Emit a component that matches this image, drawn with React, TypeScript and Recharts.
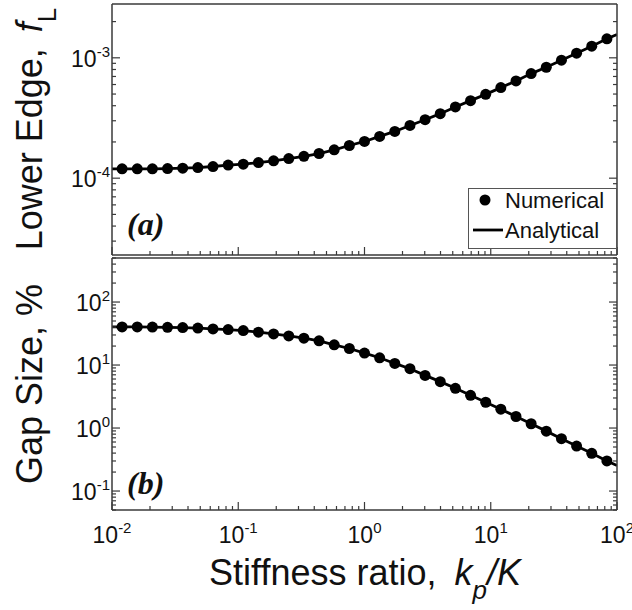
import React from 'react';
import { ComposedChart, Line, Scatter, XAxis, YAxis, Legend, Customized } from 'recharts';

// ---------- data ----------
const stiffnessRatio = [0.01202, 0.01585, 0.02089, 0.02754, 0.03631, 0.04786, 0.0631, 0.08318, 0.1096, 0.1445, 0.1905, 0.2512, 0.3311, 0.4365, 0.5754, 0.7586, 1, 1.318, 1.738, 2.291, 3.02, 3.981, 5.248, 6.918, 9.12, 12.02, 15.85, 20.89, 27.54, 36.31, 47.86, 63.1, 83.18];

const lowerEdgeNumerical = [1.195e-4, 1.195e-4, 1.196e-4, 1.202e-4, 1.211e-4, 1.226e-4, 1.25e-4, 1.284e-4, 1.308e-4, 1.349e-4, 1.393e-4, 1.456e-4, 1.519e-4, 1.603e-4, 1.721e-4, 1.869e-4, 2.018e-4, 2.222e-4, 2.445e-4, 2.743e-4, 3.061e-4, 3.435e-4, 3.905e-4, 4.406e-4, 4.972e-4, 5.655e-4, 6.43e-4, 7.395e-4, 8.35e-4, 9.55e-4, 1.092e-3, 1.249e-3, 1.439e-3];

const gapSizeNumerical = [40.3, 40.2, 40.1, 39.7, 39.26, 38.55, 37.46, 36.5, 35.2, 33.2, 31.2, 29.0, 26.7, 24.2, 20.9, 18.3, 15.5, 13.04, 10.6, 8.74, 6.85, 5.45, 4.27, 3.31, 2.566, 1.989, 1.525, 1.169, 0.893, 0.678, 0.518, 0.397, 0.3];

// analytical curve: same points plus the end values at the axis limits
const analyticStart = { x: 0.01, lower: 1.195e-4, gap: 40.3 };
const analyticEnd = { x: 100, lower: 1.563e-3, gap: 0.254 };

const majorXTicks = [0.01, 0.1, 1, 10, 100];
const majorLowerTicks = [1e-4, 1e-3];
const majorGapTicks = [0.1, 1, 10, 100];

const legendLabels = ['Numerical', 'Analytical'];

const xDomain: [number, number] = [0.01, 100];
const lowerDomain: [number, number] = [2.3e-5, 2.8e-3];
const gapDomain: [number, number] = [0.05, 500];

// ---------- derived tables ----------
const lowerNumData = stiffnessRatio.map((x, i) => ({ x, y: lowerEdgeNumerical[i] }));
const gapNumData = stiffnessRatio.map((x, i) => ({ x, y: gapSizeNumerical[i] }));
const lowerAnaData = [{ x: analyticStart.x, y: analyticStart.lower }, ...lowerNumData, { x: analyticEnd.x, y: analyticEnd.lower }];
const gapAnaData = [{ x: analyticStart.x, y: analyticStart.gap }, ...gapNumData, { x: analyticEnd.x, y: analyticEnd.gap }];

const logTicks = (majors: number[], domain: [number, number]) => {
  const out: number[] = [];
  const lo = Math.floor(Math.log10(domain[0])) - 1;
  const hi = Math.ceil(Math.log10(domain[1])) + 1;
  for (let e = lo; e <= hi; e++) {
    for (let m = 1; m <= 9; m++) {
      const exact = majors.find((t) => Math.abs(Math.log10(t) - e) < 1e-9);
      const v = m === 1 && exact !== undefined ? exact : m * Math.pow(10, e);
      if (v >= domain[0] * 0.9999 && v <= domain[1] * 1.0001) out.push(v);
    }
  }
  return out;
};

const xTicks = logTicks(majorXTicks, xDomain);
const lowerTicks = logTicks(majorLowerTicks, lowerDomain);
const gapTicks = logTicks(majorGapTicks, gapDomain);

// ---------- styles ----------
const FONT = '"Liberation Sans", Arial, Helvetica, sans-serif';
const SERIF = '"Liberation Serif", "Times New Roman", serif';
const AXIS = '#3a3a3a';
const TICK_FS = 23;
const SUP_FS = 15;

const isMajor = (v: number) => Math.abs(Math.log10(v) - Math.round(Math.log10(v))) < 1e-6;
const expOf = (v: number) => String(Math.round(Math.log10(v)));

const makeXTick = (side: 'top' | 'bottom', showLabel: boolean) => (props: any) => {
  const { x, y, payload } = props;
  const v = payload.value;
  const major = isMajor(v);
  const len = major ? 8 : 4;
  const dir = side === 'bottom' ? -1 : 1;
  return (
    <g>
      <line x1={x} y1={y} x2={x} y2={y + dir * len} stroke={AXIS} strokeWidth={1.2} />
      {showLabel && major && (
        <text x={x} y={y + 33} textAnchor="middle" fontSize={TICK_FS} fontFamily={FONT} fill="#111">
          10<tspan dy={-10} fontSize={SUP_FS}>{expOf(v)}</tspan>
        </text>
      )}
    </g>
  );
};

const makeYTick = (side: 'left' | 'right', showLabel: boolean) => (props: any) => {
  const { x, y, payload } = props;
  const v = payload.value;
  const major = isMajor(v);
  const len = major ? 8 : 4;
  const dir = side === 'left' ? 1 : -1;
  return (
    <g>
      <line x1={x} y1={y} x2={x + dir * len} y2={y} stroke={AXIS} strokeWidth={1.2} />
      {showLabel && major && (
        <text x={x - 2} y={y + 9} textAnchor="end" fontSize={TICK_FS} fontFamily={FONT} fill="#111">
          10<tspan dy={-10} fontSize={SUP_FS}>{expOf(v)}</tspan>
        </text>
      )}
    </g>
  );
};

const Dot = (props: any) => <circle cx={props.cx} cy={props.cy} r={5.5} fill="#000" />;

const LegendBox = () => (
  <svg width={149} height={61} style={{ display: 'block' }}>
    <rect x={0.5} y={0.5} width={148} height={60} fill="#fff" stroke="#555" strokeWidth={1} />
    <circle cx={17} cy={12} r={5.5} fill="#000" />
    <text x={37} y={20} fontSize={22} fontFamily={FONT} fill="#111">{legendLabels[0]}</text>
    <line x1={5} y1={42} x2={35} y2={42} stroke="#000" strokeWidth={2.8} />
    <text x={37} y={50} fontSize={22} fontFamily={FONT} fill="#111">{legendLabels[1]}</text>
  </svg>
);

const TopTexts = () => (
  <g>
    <text transform="rotate(-90)" x={-129} y={42} textAnchor="middle" fontSize={36} fontFamily={FONT} fill="#111">
      Lower Edge,<tspan dx={16} fontStyle="italic">f</tspan>
      <tspan dy={14} fontSize={26}>L</tspan>
    </text>
    <text x={127} y={235} fontSize={32} fontFamily={SERIF} fontWeight="bold" fontStyle="italic" fill="#111">(a)</text>
  </g>
);

const BottomTexts = () => (
  <g>
    <text transform="rotate(-90)" x={-128} y={42} textAnchor="middle" fontSize={36} fontFamily={FONT} fill="#111">
      Gap Size, %
    </text>
    <text x={127} y={238} fontSize={32} fontFamily={SERIF} fontWeight="bold" fontStyle="italic" fill="#111">(b)</text>
    <text x={365} y={329} textAnchor="middle" fontSize={36} fontFamily={FONT} fill="#111">
      Stiffness ratio,<tspan dx={18} fontStyle="italic">k</tspan>
      <tspan dy={14} fontSize={26} fontStyle="italic">p</tspan>
      <tspan dy={-14} fontStyle="italic">/K</tspan>
    </text>
  </g>
);

const axisCommon = {
  type: 'number' as const,
  scale: 'log' as const,
  allowDataOverflow: true,
  interval: 0 as const,
  tickLine: false,
  tickSize: 0,
  tickMargin: 0,
  axisLine: { stroke: AXIS, strokeWidth: 1.5 },
};

export default function App() {
  return (
    <div style={{ position: 'absolute', left: 0, top: 0, width: 632, height: 610, background: '#fff', fontFamily: FONT }}>
      <div style={{ position: 'absolute', left: 0, top: 0 }}>
        <ComposedChart width={632} height={262} data={lowerAnaData} margin={{ top: 3, right: 14, bottom: 6, left: 0 }}>
          <XAxis xAxisId="b" dataKey="x" orientation="bottom" height={1} domain={xDomain} ticks={xTicks} tick={makeXTick('bottom', false)} {...axisCommon} />
          <XAxis xAxisId="t" orientation="top" height={1} domain={xDomain} ticks={xTicks} tick={makeXTick('top', false)} {...axisCommon} />
          <YAxis yAxisId="l" dataKey="y" orientation="left" width={112} domain={lowerDomain} ticks={lowerTicks} tick={makeYTick('left', true)} {...axisCommon} />
          <YAxis yAxisId="r" orientation="right" width={1} domain={lowerDomain} ticks={lowerTicks} tick={makeYTick('right', false)} {...axisCommon} />
          <Line xAxisId="b" yAxisId="l" dataKey="y" type="linear" stroke="#000" strokeWidth={2.8} dot={false} isAnimationActive={false} />
          <Scatter xAxisId="b" yAxisId="l" data={lowerNumData} dataKey="y" shape={Dot} isAnimationActive={false} />
          <Legend layout="horizontal" verticalAlign="middle" align="center" wrapperStyle={{ left: 468, top: 188, width: 149, height: 61 }} content={() => <LegendBox />} />
          <Customized component={TopTexts} />
        </ComposedChart>
      </div>
      <div style={{ position: 'absolute', left: 0, top: 256 }}>
        <ComposedChart width={632} height={354} data={gapAnaData} margin={{ top: 1, right: 14, bottom: 0, left: 0 }}>
          <XAxis xAxisId="b" dataKey="x" orientation="bottom" height={100} domain={xDomain} ticks={xTicks} tick={makeXTick('bottom', true)} {...axisCommon} />
          <XAxis xAxisId="t" orientation="top" height={1} domain={xDomain} ticks={xTicks} tick={makeXTick('top', false)} {...axisCommon} />
          <YAxis yAxisId="l" dataKey="y" orientation="left" width={112} domain={gapDomain} ticks={gapTicks} tick={makeYTick('left', true)} {...axisCommon} />
          <YAxis yAxisId="r" orientation="right" width={1} domain={gapDomain} ticks={gapTicks} tick={makeYTick('right', false)} {...axisCommon} />
          <Line xAxisId="b" yAxisId="l" dataKey="y" type="linear" stroke="#000" strokeWidth={2.8} dot={false} isAnimationActive={false} />
          <Scatter xAxisId="b" yAxisId="l" data={gapNumData} dataKey="y" shape={Dot} isAnimationActive={false} />
          <Customized component={BottomTexts} />
        </ComposedChart>
      </div>
    </div>
  );
}
